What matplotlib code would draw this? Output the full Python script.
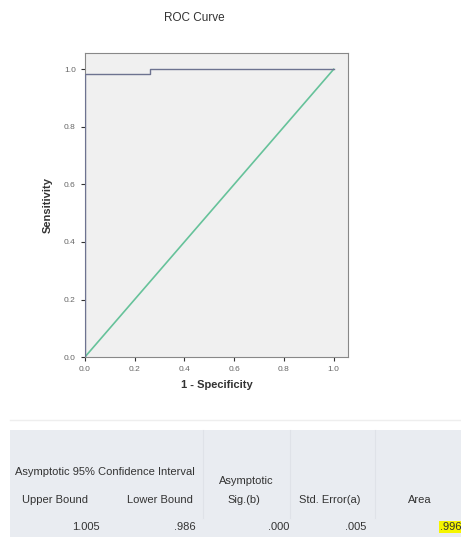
import matplotlib.pyplot as plt
from matplotlib.patches import Rectangle

# ROC curve points
fpr = [0.0, 0.0, 0.26, 0.26, 1.0]
tpr = [0.0, 0.985, 0.985, 1.0, 1.0]
ref_line = [0.0, 1.0]

ticks = [0.0, 0.2, 0.4, 0.6, 0.8, 1.0]
tick_labels = ['0.0', '0.2', '0.4', '0.6', '0.8', '1.0']

# Area Under the Curve table
col_headers = ['Upper Bound', 'Lower Bound', 'Sig.(b)', 'Std. Error(a)', 'Area']
col_values = ['1.005', '.986', '.000', '.005', '.996']

plt.rcParams['font.family'] = ['Liberation Sans', 'DejaVu Sans']

fig = plt.figure(figsize=(4.61, 5.37), dpi=100)
fig.patch.set_facecolor('white')

ax = fig.add_axes([0.184, 0.335, 0.571, 0.566])
ax.set_facecolor('#f0f0f0')
ax.plot(ref_line, ref_line, color='#66c29a', linewidth=1.2, zorder=2)
ax.plot(fpr, tpr, color='#6d7390', linewidth=1.0, zorder=3)
ax.set_xlim(0, 1.058)
ax.set_ylim(0, 1.056)
ax.set_xticks(ticks)
ax.set_xticklabels(tick_labels)
ax.set_yticks(ticks)
ax.set_yticklabels(tick_labels)
ax.tick_params(direction='out', length=3, width=0.8, labelsize=6,
               colors='#333333', labelcolor='#666666')
for s in ax.spines.values():
    s.set_color('#888888')
    s.set_linewidth(0.8)
ax.set_xlabel('1 - Specificity', fontsize=8, fontweight='bold',
              color='#333333', labelpad=5)
ax.set_ylabel('Sensitivity', fontsize=8, fontweight='bold',
              color='#333333', labelpad=8)
fig.text(194 / 461, 1 - 18 / 537, 'ROC Curve', fontsize=8.5, color='#333333',
         ha='center', va='center')

# table drawn in pixel coordinates
tb = fig.add_axes([0, 0, 1, 127 / 537])
tb.set_xlim(0, 461)
tb.set_ylim(537, 410)
tb.axis('off')
tb.add_patch(Rectangle((10, 430), 451, 107, facecolor='#e9ecf1',
                       edgecolor='none'))
tb.plot([10, 461], [420, 420], color='#eeeeee', linewidth=1)
for xs in [203, 290, 375]:
    tb.plot([xs, xs], [430, 518], color='#dfe2e8', linewidth=0.8)

txt = dict(fontsize=8, color='#333333', va='center')
tb.text(105, 472, 'Asymptotic 95% Confidence Interval', ha='center', **txt)
tb.text(246, 481, 'Asymptotic', ha='center', **txt)
header_x = [55, 160, 244, 330, 420]
for hx, h in zip(header_x, col_headers):
    tb.text(hx, 500, h, ha='center', **txt)

value_x = [100, 196, 289, 366, 461]
for vx, v in zip(value_x, col_values):
    t = tb.text(vx, 527, v, ha='right', **txt)
t.set_bbox(dict(facecolor='#f5f500', edgecolor='none', pad=0.5))

fig.savefig('out.png', dpi=100)
